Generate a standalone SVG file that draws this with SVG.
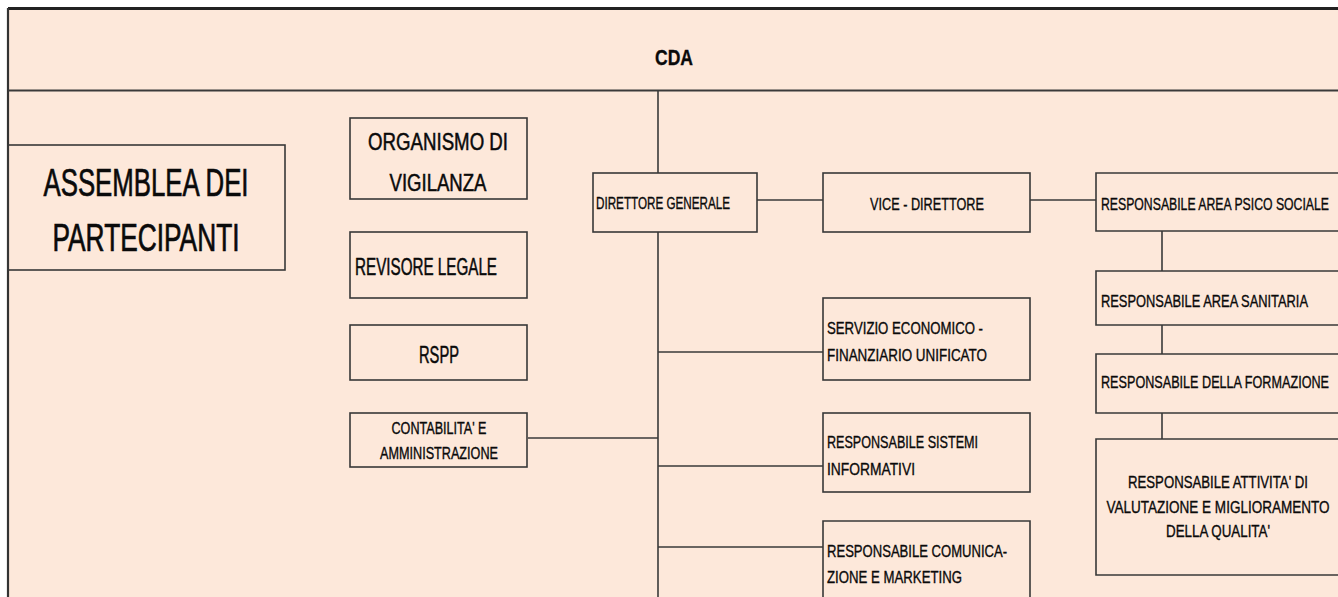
<svg xmlns="http://www.w3.org/2000/svg" width="1338" height="597" viewBox="0 0 1338 597">
<style>
.box{fill:none;stroke:#383838;stroke-width:1.6}
.ln{fill:none;stroke:#3a3a3a;stroke-width:1.6}
text{font-family:"Liberation Sans Narrow","Liberation Sans",Arial,sans-serif;fill:#0a0a0a;stroke:#0a0a0a;stroke-width:0.35}
.s{font-size:16px}
.d{font-size:17px}
.m{font-size:23px;stroke-width:0.5}
.l{font-size:38px;stroke-width:0.7}
.c{text-anchor:middle}
</style>
<rect x="0" y="0" width="1338" height="597" fill="#ffffff"/>
<rect x="8" y="8" width="1330" height="589" fill="#fde8da"/>
<g id="frame">
<line x1="8" y1="8.5" x2="1338" y2="8.5" stroke="#222" stroke-width="3"/>
<line x1="8" y1="8" x2="8" y2="597" stroke="#333" stroke-width="2.2"/>
<line x1="8" y1="90.5" x2="1338" y2="90.5" stroke="#3a3a3a" stroke-width="2"/>
</g>
<g id="cda">
<text x="674" y="65" class="c" font-size="22" font-weight="bold" textLength="38" lengthAdjust="spacingAndGlyphs">CDA</text>
</g>
<g id="connectors">
<path class="ln" d="M658 91V173M658 232V597"/>
<path class="ln" d="M757 200H823M1030 200H1096"/>
<path class="ln" d="M658 352H823M658 466H823M658 547H823"/>
<path class="ln" d="M528 438H658"/>
<path class="ln" d="M1162 231V271M1162 325V354M1162 413V439"/>
</g>
<g id="assemblea">
<rect class="box" x="8" y="145" width="277" height="125"/>
<text x="146" y="196" class="l c" textLength="205" lengthAdjust="spacingAndGlyphs">ASSEMBLEA DEI</text>
<text x="146" y="251" class="l c" textLength="187" lengthAdjust="spacingAndGlyphs">PARTECIPANTI</text>
</g>
<g id="organismo">
<rect class="box" x="350" y="118" width="177" height="81"/>
<text x="438" y="150" class="m c" textLength="140" lengthAdjust="spacingAndGlyphs">ORGANISMO DI</text>
<text x="438" y="191" class="m c" textLength="97" lengthAdjust="spacingAndGlyphs">VIGILANZA</text>
</g>
<g id="revisore">
<rect class="box" x="350" y="232" width="177" height="66"/>
<text x="355" y="275" class="m" textLength="142" lengthAdjust="spacingAndGlyphs">REVISORE LEGALE</text>
</g>
<g id="rspp">
<rect class="box" x="350" y="325" width="177" height="55"/>
<text x="439" y="363" class="m c" textLength="40" lengthAdjust="spacingAndGlyphs">RSPP</text>
</g>
<g id="contabilita">
<rect class="box" x="350" y="413" width="177" height="54"/>
<text x="439" y="434" class="s c" textLength="95" lengthAdjust="spacingAndGlyphs">CONTABILITA' E</text>
<text x="439" y="459" class="s c" textLength="118" lengthAdjust="spacingAndGlyphs">AMMINISTRAZIONE</text>
</g>
<g id="direttore">
<rect class="box" x="593" y="173" width="164" height="59"/>
<text x="596" y="209" class="s" textLength="134" lengthAdjust="spacingAndGlyphs">DIRETTORE GENERALE</text>
</g>
<g id="vice">
<rect class="box" x="823" y="173" width="207" height="59"/>
<text x="927" y="210" class="d c" font-size="18" textLength="114" lengthAdjust="spacingAndGlyphs">VICE - DIRETTORE</text>
</g>
<g id="servizio">
<rect class="box" x="823" y="298" width="207" height="82"/>
<text x="827" y="334" class="d" textLength="156" lengthAdjust="spacingAndGlyphs">SERVIZIO ECONOMICO -</text>
<text x="827" y="361" class="d" textLength="160" lengthAdjust="spacingAndGlyphs">FINANZIARIO UNIFICATO</text>
</g>
<g id="sistemi">
<rect class="box" x="823" y="413" width="207" height="79"/>
<text x="827" y="448" class="d" textLength="151" lengthAdjust="spacingAndGlyphs">RESPONSABILE SISTEMI</text>
<text x="827" y="475" class="d" textLength="88" lengthAdjust="spacingAndGlyphs">INFORMATIVI</text>
</g>
<g id="comunicazione">
<path class="box" d="M823 597V521H1030V597"/>
<text x="827" y="557" class="d" textLength="180" lengthAdjust="spacingAndGlyphs">RESPONSABILE COMUNICA-</text>
<text x="827" y="583" class="d" textLength="135" lengthAdjust="spacingAndGlyphs">ZIONE E MARKETING</text>
</g>
<g id="psico">
<path class="box" d="M1338 173H1096V231H1338"/>
<text x="1101" y="210" class="d" textLength="228" lengthAdjust="spacingAndGlyphs">RESPONSABILE AREA PSICO SOCIALE</text>
</g>
<g id="sanitaria">
<path class="box" d="M1338 271H1096V325H1338"/>
<text x="1101" y="307" class="d" textLength="207" lengthAdjust="spacingAndGlyphs">RESPONSABILE AREA SANITARIA</text>
</g>
<g id="formazione">
<path class="box" d="M1338 354H1096V413H1338"/>
<text x="1101" y="388" class="d" textLength="228" lengthAdjust="spacingAndGlyphs">RESPONSABILE DELLA FORMAZIONE</text>
</g>
<g id="attivita">
<path class="box" d="M1338 439H1096V575H1338"/>
<text x="1218" y="488" class="d c" textLength="180" lengthAdjust="spacingAndGlyphs">RESPONSABILE ATTIVITA' DI</text>
<text x="1218" y="513" class="d c" textLength="223" lengthAdjust="spacingAndGlyphs">VALUTAZIONE E MIGLIORAMENTO</text>
<text x="1218" y="537" class="d c" textLength="104" lengthAdjust="spacingAndGlyphs">DELLA QUALITA'</text>
</g>
</svg>
